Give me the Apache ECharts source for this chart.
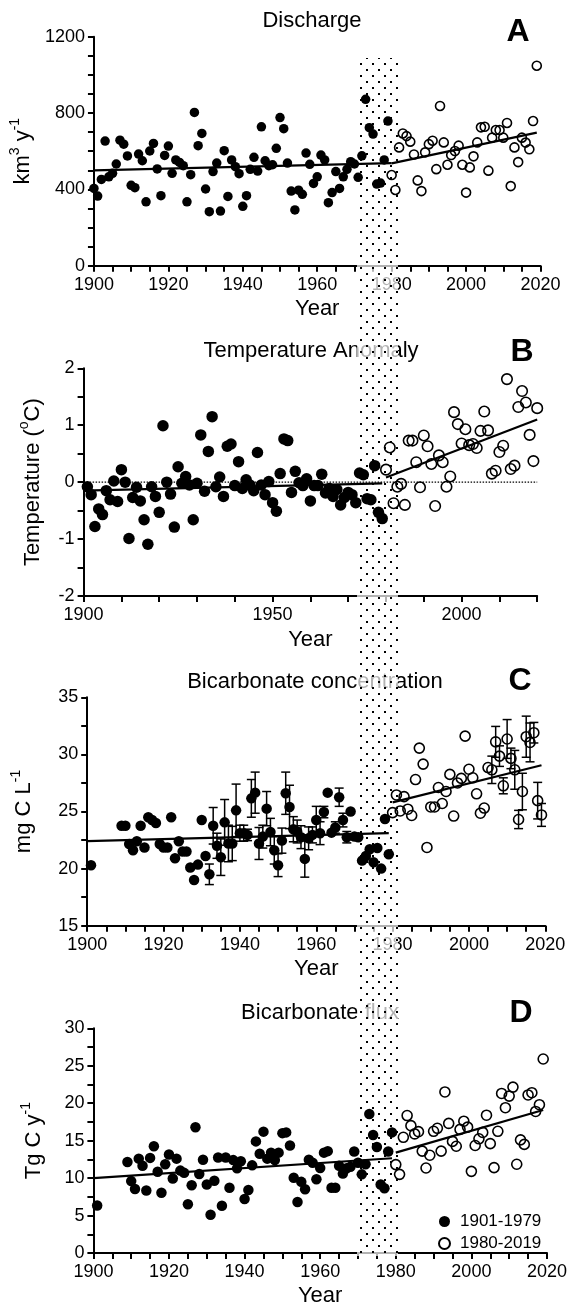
<!DOCTYPE html>
<html>
<head>
<meta charset="utf-8">
<script src="https://cdn.jsdelivr.net/npm/echarts@6/dist/echarts.min.js"></script>
<style>
  html, body { margin: 0; padding: 0; background: #fff; }
  #main { width: 570px; height: 1308px; }
</style>
</head>
<body>
<div id="main"></div>
<script>
// ---- data ----
// A: discharge (km3 y-1)
const dischargeOldStart = 1900;
const dischargeOld = [405,365,452,653,466,484,533,658,637,575,
  421,409,585,550,335,601,641,507,367,578,
  627,484,554,541,524,335,477,803,629,693,
  402,283,493,538,286,603,363,554,519,482,
  311,367,505,568,496,728,550,524,529,615,
  776,718,538,391,292,396,374,590,531,431,
  466,580,554,330,383,493,405,466,505,545,
  533,463,576,872,723,690,428,433,554,758];
const dischargeNewStart = 1980;
const dischargeNew = [475,397,620,693,679,650,583,447,391,594,
  637,655,506,837,646,529,580,601,629,529,
  383,515,573,646,725,728,498,671,711,711,
  671,748,417,620,543,671,645,610,758,1048];
const dischargeTrendOld = [[1900, 500], [1980, 538]];
const dischargeTrendNew = [[1980, 536], [2019, 697]];

// B: temperature anomaly (deg C)
const tempOldStart = 1901;
const tempOld = [-0.08,-0.22,-0.78,-0.47,-0.57,-0.15,-0.31,0.02,-0.34,
  0.22,0.0,-0.99,-0.27,-0.09,-0.33,-0.66,-1.09,-0.08,-0.25,
  -0.53,0.99,0.0,-0.21,-0.79,0.27,-0.02,0.10,-0.05,-0.66,
  -0.02,0.83,-0.16,0.54,1.15,-0.08,0.09,-0.25,0.63,0.67,
  -0.06,0.36,-0.11,0.04,-0.05,-0.15,0.52,-0.05,-0.22,0.01,
  -0.36,-0.51,0.15,0.76,0.73,-0.18,0.19,-0.01,-0.06,0.06,
  -0.33,-0.06,-0.06,0.14,-0.19,-0.11,-0.25,-0.13,-0.40,-0.27,
  -0.18,-0.22,-0.36,0.16,0.13,-0.29,-0.31,0.29,-0.53,-0.64];
const tempNewStart = 1980;
const tempNew = [0.22,0.61,-0.37,-0.08,-0.03,-0.40,0.73,0.73,0.35,-0.09,
  0.82,0.63,0.32,-0.42,0.47,0.35,-0.08,0.10,1.23,1.02,
  0.68,0.93,0.65,0.67,0.60,0.90,1.24,0.91,0.15,0.20,
  0.53,0.64,1.81,0.23,0.29,1.32,1.60,1.40,0.83,0.37,
  1.30];
const tempTrendOld = [[1900, -0.15], [1979, -0.02]];
const tempTrendNew = [[1980, 0.08], [2020, 1.1]];
const tempZero = [[1900, 0], [2020, 0]];

// C: bicarbonate concentration (mg C L-1) with error bars
const earlyYear = [1901];
const concEarly = [20.3];
const concOldStart = 1909;
const concOld = [23.75,23.75,22.15,21.6,22.4,23.75,21.85,24.5,24.25,24.0,22.15,
  21.85,21.85,24.5,20.9,22.4,21.5,21.5,20.1,19.0,20.35,
  24.25,21.1,19.5,23.75,22.0,21.0,24.05,22.2,22.2,25.1,
  23.1,23.1,22.95,26.15,26.65,22.2,22.8,25.25,23.2,21.6,
  20.3,22.45,26.6,25.4,23.45,23.25,22.75,20.85,22.65,22.95,
  24.25,23.1,24.95,26.65,23.15,23.6,26.25,24.25,22.75,25.0,
  22.8,22.75,20.7,21.1,21.7,20.55,21.8,20.0,24.35,21.25];
const concOldErr = [0,0,0,0,0,0,0,0,0,0,0,
  0,0,0,0,0,0,0,0,0,0,
  0,0,0.9,1.6,1.1,1.6,2.0,1.6,1.5,2.3,
  0.7,0.7,0.5,1.65,1.8,1.4,1.0,1.5,1.2,1.2,
  1.0,1.1,1.85,1.9,1.1,1.0,1.0,1.6,1.0,0.7,
  1.2,1.0,0.5,0,0,0.5,0.8,0.6,0.5,0,
  0,0,0,0,0,0,0,0,0,0];
const concNewStart = 1980;
const concNew = [24.9,26.45,25.05,26.3,25.2,24.65,27.8,30.55,29.15,21.85,
  25.4,25.4,27.1,25.7,26.75,28.25,24.6,27.5,27.9,31.6,
  28.7,27.95,26.55,24.85,25.3,28.85,28.65,31.1,29.85,27.25,
  31.35,29.65,28.65,24.3,26.75,31.55,31.05,31.9,25.95,24.7];
const concNewErr = [0,0,0,0,0,0,0,0,0,0,
  0,0,0,0,0,0,0,0,0,0,
  0,0,0,0,0,0,1.2,1.35,0.9,0.7,
  1.7,0.9,1.7,0.8,1.6,1.8,1.7,0.9,1.6,1.0];
const concTrendOld = [[1900, 22.4], [1979, 23.1]];
const concTrendNew = [[1980, 25.8], [2019, 29.05]];

// D: bicarbonate flux (Tg C y-1)
const fluxEarly = [6.35];
const fluxOldStart = 1909;
const fluxOld = [12.15,9.6,8.55,12.6,11.65,8.35,12.7,14.25,10.85,8.05,11.85,
  13.15,9.95,12.6,11.0,10.7,6.5,9.05,16.8,10.55,12.45,
  9.15,5.1,9.65,12.75,6.3,12.75,8.7,12.4,11.3,12.25,
  7.2,8.4,11.7,14.9,13.25,16.2,12.6,13.4,12.4,13.4,
  16.0,16.1,14.35,10.05,6.8,9.5,8.5,12.45,12.05,9.85,
  11.35,13.4,13.6,8.7,8.7,11.65,10.6,11.3,11.5,13.55,
  12.05,10.5,11.85,18.55,15.75,14.15,9.15,8.65,13.55,16.1];
const fluxNewStart = 1980;
const fluxNew = [11.8,10.5,15.45,18.35,17.0,15.9,16.2,13.6,11.35,13.05,
  16.25,16.65,13.6,21.5,17.3,14.9,14.25,16.5,17.6,16.8,
  10.9,14.35,15.25,16.1,18.4,14.6,11.4,16.25,21.3,19.4,
  20.95,22.15,11.85,15.1,14.5,21.1,21.4,18.9,19.8,25.9];
const fluxTrendOld = [[1900, 10.0], [1979, 12.65]];
const fluxTrendNew = [[1980, 13.4], [2019, 19.1]];

const panelTitles = ['Discharge', 'Temperature Anomaly', 'Bicarbonate concentration', 'Bicarbonate flux'];
const panelLetters = ['A', 'B', 'C', 'D'];
const legendNames = ['1901-1979', '1980-2019'];

// ---- helpers ----
const FONT = '"Liberation Sans", Arial, Helvetica, sans-serif';

function pts(start, values, errs) {
  return values.map(function (v, i) {
    return errs ? [start + i, v, errs[i]] : [start + i, v];
  });
}

function xAxisOf(i, step, labelEvery, gap) {
  return {
    type: 'value', gridIndex: i, min: 1900, max: 2020, interval: step,
    name: 'Year', nameLocation: 'middle', nameGap: gap,
    nameTextStyle: { fontFamily: FONT, fontSize: 22, color: '#000' },
    axisLine: { show: true, onZero: false, lineStyle: { color: '#000', width: 2 } },
    axisTick: { show: true, length: 6, lineStyle: { color: '#000', width: 2 } },
    axisLabel: {
      margin: 10, fontFamily: FONT, fontSize: 18, color: '#000',
      formatter: function (v) { return v % labelEvery === 0 ? String(v) : ''; }
    },
    splitLine: { show: false }
  };
}

const rich = {
  n: { fontFamily: FONT, fontSize: 22, color: '#000', lineHeight: 30 },
  s: { fontFamily: FONT, fontSize: 14, color: '#000', lineHeight: 14, verticalAlign: 'top' }
};

function yAxisOf(i, min, max, step, labelEvery, name, gap) {
  return {
    type: 'value', gridIndex: i, min: min, max: max, interval: step,
    name: name, nameLocation: 'middle', nameRotate: 90, nameGap: gap,
    nameTextStyle: { rich: rich },
    axisLine: { show: true, onZero: false, lineStyle: { color: '#000', width: 2 } },
    axisTick: { show: true, length: 6, lineStyle: { color: '#000', width: 2 } },
    axisLabel: {
      margin: 9, fontFamily: FONT, fontSize: 18, color: '#000',
      formatter: function (v) {
        const r = Math.abs(v % labelEvery);
        return (r < 1e-6 || Math.abs(r - labelEvery) < 1e-6) ? String(v) : '';
      }
    },
    splitLine: { show: false }
  };
}

function dots(i, name, data, size, open) {
  return {
    type: 'scatter', name: name, xAxisIndex: i, yAxisIndex: i, data: data,
    symbol: 'circle', symbolSize: size, z: 10, silent: true,
    itemStyle: open
      ? { color: 'transparent', borderColor: '#000', borderWidth: 1.6, opacity: 1 }
      : { color: '#000', opacity: 1 }
  };
}

function trend(i, data, style) {
  return {
    type: 'line', name: 'trend', xAxisIndex: i, yAxisIndex: i, data: data,
    symbol: 'none', showSymbol: false, z: 10, silent: true,
    lineStyle: style || { color: '#000', width: 2.2 }
  };
}

function errorBars(i, data) {
  return {
    type: 'custom', name: 'err', xAxisIndex: i, yAxisIndex: i, z: 9, silent: true,
    data: data.filter(function (d) { return d[2] > 0; }),
    encode: { x: 0, y: 1 },
    renderItem: function (params, api) {
      const x = api.value(0), v = api.value(1), e = api.value(2);
      const top = api.coord([x, v + e]);
      const bot = api.coord([x, v - e]);
      const hw = 4.5;
      const st = { stroke: '#000', lineWidth: 1.5 };
      return {
        type: 'group',
        children: [
          { type: 'line', shape: { x1: top[0], y1: top[1], x2: bot[0], y2: bot[1] }, style: st },
          { type: 'line', shape: { x1: top[0] - hw, y1: top[1], x2: top[0] + hw, y2: top[1] }, style: st },
          { type: 'line', shape: { x1: bot[0] - hw, y1: bot[1], x2: bot[0] + hw, y2: bot[1] }, style: st }
        ]
      };
    }
  };
}

// dotted band tile
const tile = document.createElement('canvas');
tile.width = 12;
tile.height = 12;
const tctx = tile.getContext('2d');
tctx.fillStyle = '#000';
tctx.fillRect(0, 3, 2, 2);
tctx.fillRect(6, 9, 2, 2);

const titlePos = [[312, 21], [311, 351], [315, 682], [320, 1013]];
const letterPos = [[518, 32], [522, 352], [520, 681], [521, 1013]];

const graphics = [];
panelTitles.forEach(function (t, k) {
  graphics.push({
    type: 'text', x: titlePos[k][0], y: titlePos[k][1], z: 1, silent: true,
    style: { text: t, fontFamily: FONT, fontSize: 22, fill: '#000',
      textAlign: 'center', textVerticalAlign: 'middle', align: 'center', verticalAlign: 'middle' }
  });
  graphics.push({
    type: 'text', x: letterPos[k][0], y: letterPos[k][1], z: 1, silent: true,
    style: { text: panelLetters[k], fontFamily: FONT, fontSize: 32, fontWeight: 'bold', fill: '#000',
      textAlign: 'center', textVerticalAlign: 'middle', align: 'center', verticalAlign: 'middle' }
  });
});
graphics.push({
  type: 'rect', z: 5, silent: true,
  shape: { x: 357, y: 58, width: 41, height: 1198 },
  style: { fill: 'rgba(255,255,255,0.7)' }
});
graphics.push({
  type: 'rect', z: 6, silent: true,
  shape: { x: 357, y: 58, width: 41, height: 1198 },
  style: { fill: { image: tile, repeat: 'repeat' } }
});

const chart = echarts.init(document.getElementById('main'));

const option = {
  animation: false,
  backgroundColor: '#fff',
  textStyle: { fontFamily: FONT },
  grid: [
    { left: 83.6, top: 36.7, width: 456.9, height: 229 },
    { left: 83.6, top: 368.3, width: 453.6, height: 227.7 },
    { left: 87.2, top: 697.3, width: 458.1, height: 228.4 },
    { left: 93.4, top: 1028.3, width: 454.8, height: 227 }
  ],
  xAxis: [
    xAxisOf(0, 5, 20, 32),
    xAxisOf(1, 10, 50, 33),
    xAxisOf(2, 5, 20, 32),
    xAxisOf(3, 5, 20, 32)
  ],
  yAxis: [
    yAxisOf(0, 0, 1200, 100, 400, '{n|km}{s|3}{n| y}{s|-1}', 41),
    yAxisOf(1, -2, 2, 0.5, 1, '{n|Temperature (}{s|o}{n|C)}', 36),
    yAxisOf(2, 15, 35, 2.5, 5, '{n|mg C L}{s|-1}', 48),
    yAxisOf(3, 0, 30, 2.5, 5, '{n|Tg C y}{s|-1}', 44)
  ],
  legend: {
    data: legendNames,
    orient: 'vertical', left: 433, top: 1208,
    itemWidth: 11, itemHeight: 11, itemGap: 5,
    icon: 'circle', selectedMode: false,
    textStyle: { fontFamily: FONT, fontSize: 17, color: '#000', padding: [0, 0, 0, 5] }
  },
  graphic: graphics,
  series: [
    dots(0, legendNames[0], pts(dischargeOldStart, dischargeOld), 9.5, false),
    dots(0, legendNames[1], pts(dischargeNewStart, dischargeNew), 9, true),
    trend(0, dischargeTrendOld),
    trend(0, dischargeTrendNew),

    trend(1, tempZero, { color: '#000', width: 1.2, type: [1.5, 1.5] }),
    dots(1, legendNames[0], pts(tempOldStart, tempOld), 11.5, false),
    dots(1, legendNames[1], pts(tempNewStart, tempNew), 10.5, true),
    trend(1, tempTrendOld),
    trend(1, tempTrendNew),

    errorBars(2, pts(concOldStart, concOld, concOldErr)),
    errorBars(2, pts(concNewStart, concNew, concNewErr)),
    dots(2, legendNames[0], pts(earlyYear[0], concEarly).concat(pts(concOldStart, concOld)), 10.5, false),
    dots(2, legendNames[1], pts(concNewStart, concNew), 10, true),
    trend(2, concTrendOld),
    trend(2, concTrendNew),

    dots(3, legendNames[0], pts(earlyYear[0], fluxEarly).concat(pts(fluxOldStart, fluxOld)), 10.5, false),
    dots(3, legendNames[1], pts(fluxNewStart, fluxNew), 10, true),
    trend(3, fluxTrendOld),
    trend(3, fluxTrendNew)
  ]
};

chart.setOption(option);
</script>
</body>
</html>
